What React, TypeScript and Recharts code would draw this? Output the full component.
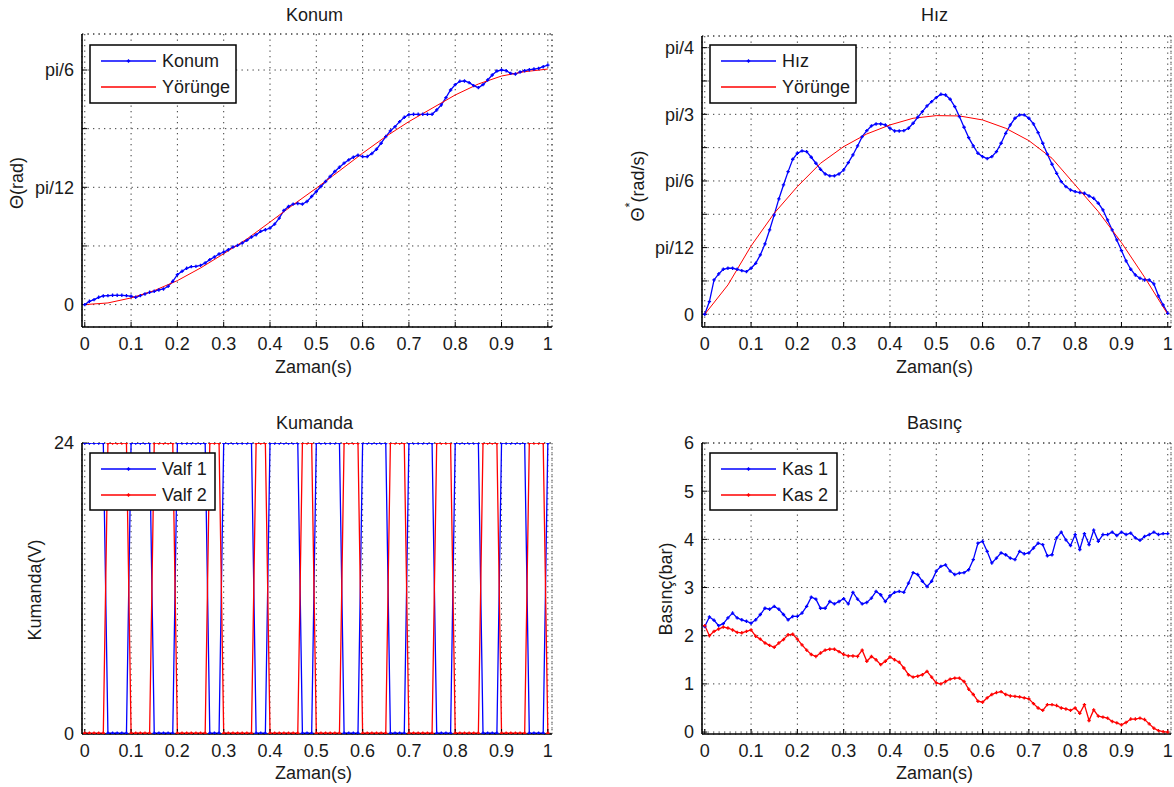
import React from 'react';
import { LineChart, Line, XAxis, YAxis, CartesianGrid, ReferenceLine } from 'recharts';

const FONT = '"Liberation Sans", Arial, Helvetica, sans-serif';
const TXT = '#1a1a1a';
const BLUE = '#0000ff';
const RED = '#ff0000';
const FS = 18;

// ---------- data ----------
const TIME = [
  0, 0.01, 0.02, 0.03, 0.04, 0.05, 0.06, 0.07, 0.08, 0.09,
  0.1, 0.11, 0.12, 0.13, 0.14, 0.15, 0.16, 0.17, 0.18, 0.19,
  0.2, 0.21, 0.22, 0.23, 0.24, 0.25, 0.26, 0.27, 0.28, 0.29,
  0.3, 0.31, 0.32, 0.33, 0.34, 0.35, 0.36, 0.37, 0.38, 0.39,
  0.4, 0.41, 0.42, 0.43, 0.44, 0.45, 0.46, 0.47, 0.48, 0.49,
  0.5, 0.51, 0.52, 0.53, 0.54, 0.55, 0.56, 0.57, 0.58, 0.59,
  0.6, 0.61, 0.62, 0.63, 0.64, 0.65, 0.66, 0.67, 0.68, 0.69,
  0.7, 0.71, 0.72, 0.73, 0.74, 0.75, 0.76, 0.77, 0.78, 0.79,
  0.8, 0.81, 0.82, 0.83, 0.84, 0.85, 0.86, 0.87, 0.88, 0.89,
  0.9, 0.91, 0.92, 0.93, 0.94, 0.95, 0.96, 0.97, 0.98, 0.99,
  1,
];
const TIME_COARSE = [0, 0.05, 0.1, 0.15, 0.2, 0.25, 0.3, 0.35, 0.4, 0.45, 0.5, 0.55, 0.6, 0.65, 0.7, 0.75, 0.8, 0.85, 0.9, 0.95, 1];

const KONUM = [
  0, 0.0074, 0.0111, 0.0163, 0.0193, 0.0201, 0.0208, 0.0208, 0.0208, 0.0201,
  0.0186, 0.0163, 0.0201, 0.0238, 0.0275, 0.0297, 0.0327, 0.0349, 0.0408, 0.052,
  0.0668, 0.0743, 0.081, 0.0847, 0.0854, 0.0876, 0.0928, 0.1003, 0.1062, 0.1129,
  0.1173, 0.1225, 0.1285, 0.1322, 0.1374, 0.1433, 0.1508, 0.156, 0.1634, 0.1671,
  0.1708, 0.1797, 0.1931, 0.2102, 0.2191, 0.2243, 0.2258, 0.2243, 0.2302, 0.2414,
  0.2525, 0.2637, 0.2748, 0.2859, 0.2971, 0.3067, 0.3157, 0.3231, 0.329, 0.3335,
  0.3305, 0.3305, 0.3372, 0.3468, 0.3602, 0.3751, 0.3877, 0.3973, 0.4085, 0.4181,
  0.4241, 0.4248, 0.4248, 0.4248, 0.4248, 0.4248, 0.4345, 0.4456, 0.462, 0.479,
  0.4909, 0.4984, 0.4991, 0.4954, 0.4887, 0.4842, 0.4909, 0.5013, 0.5125, 0.5214,
  0.5236, 0.5221, 0.5162, 0.5147, 0.5192, 0.5221, 0.5243, 0.5258, 0.5273, 0.531,
  0.5347,
];
const KONUM_YORUNGE = [0, 0.0037, 0.0149, 0.0312, 0.0535, 0.0817, 0.1136, 0.1463, 0.1842, 0.2228, 0.2599, 0.2986, 0.3379, 0.3751, 0.4085, 0.4382, 0.4679, 0.4924, 0.5102, 0.5199, 0.5258];

const HIZ = [
  0, 0.0498, 0.1349, 0.1584, 0.1768, 0.1807, 0.1807, 0.1768, 0.1715, 0.1676,
  0.1807, 0.2003, 0.2331, 0.2763, 0.3312, 0.3902, 0.453, 0.508, 0.5604, 0.6088,
  0.6324, 0.6416, 0.6389, 0.6167, 0.5931, 0.5695, 0.5512, 0.5434, 0.5434, 0.5512,
  0.5669, 0.5957, 0.6258, 0.6612, 0.6979, 0.7214, 0.7398, 0.7476, 0.7476, 0.7437,
  0.7306, 0.7201, 0.7201, 0.7214, 0.7306, 0.7502, 0.7738, 0.7961, 0.8183, 0.8353,
  0.851, 0.8641, 0.8615, 0.8445, 0.8157, 0.7764, 0.7345, 0.6939, 0.6612, 0.6324,
  0.6193, 0.6114, 0.6193, 0.6389, 0.6717, 0.7109, 0.7437, 0.7699, 0.783, 0.783,
  0.7699, 0.7476, 0.7136, 0.6717, 0.6285, 0.5892, 0.5538, 0.5211, 0.5015, 0.4884,
  0.4818, 0.4779, 0.4753, 0.4648, 0.4556, 0.436, 0.4098, 0.3705, 0.3312, 0.292,
  0.2501, 0.2095, 0.1768, 0.1545, 0.1414, 0.1349, 0.1349, 0.1191, 0.072, 0.0367,
  0.0039,
];
const HIZ_YORUNGE = [0, 0.1152, 0.2684, 0.3967, 0.5015, 0.5931, 0.6586, 0.7083, 0.7437, 0.7699, 0.7803, 0.779, 0.7633, 0.7306, 0.6821, 0.6128, 0.508, 0.4033, 0.2815, 0.1453, 0];

const VALF1 = [
  24, 24, 24, 24, 24, 0, 0, 0, 0, 0,
  24, 24, 24, 24, 24, 0, 0, 0, 0, 0,
  24, 24, 24, 24, 24, 24, 24, 0, 0, 0,
  24, 24, 24, 24, 24, 24, 24, 0, 0, 0,
  24, 24, 24, 24, 24, 24, 24, 0, 0, 0,
  24, 24, 24, 24, 24, 24, 0, 0, 0, 0,
  24, 24, 24, 24, 24, 24, 0, 0, 0, 0,
  24, 24, 24, 24, 24, 24, 0, 0, 0, 0,
  24, 24, 24, 24, 24, 24, 0, 0, 0, 0,
  24, 24, 24, 24, 24, 24, 0, 0, 0, 0,
  24,
];
const VALF2 = [
  0, 0, 0, 0, 0, 24, 24, 24, 24, 24,
  0, 0, 0, 0, 0, 24, 24, 24, 24, 24,
  0, 0, 0, 0, 0, 0, 0, 24, 24, 24,
  0, 0, 0, 0, 0, 0, 0, 24, 24, 24,
  0, 0, 0, 0, 0, 0, 0, 24, 24, 24,
  0, 0, 0, 0, 0, 0, 24, 24, 24, 24,
  0, 0, 0, 0, 0, 0, 24, 24, 24, 24,
  0, 0, 0, 0, 0, 0, 24, 24, 24, 24,
  0, 0, 0, 0, 0, 0, 24, 24, 24, 24,
  0, 0, 0, 0, 0, 0, 24, 24, 24, 24,
  0,
];

const KAS1 = [
  2.19, 2.39, 2.32, 2.21, 2.25, 2.37, 2.47, 2.37, 2.33, 2.3,
  2.26, 2.33, 2.44, 2.57, 2.55, 2.61, 2.55, 2.44, 2.33, 2.4,
  2.4, 2.47, 2.61, 2.8, 2.76, 2.57, 2.57, 2.71, 2.66, 2.71,
  2.77, 2.66, 2.9, 2.76, 2.66, 2.69, 2.78, 2.92, 2.85, 2.71,
  2.83, 2.9, 2.92, 2.9, 3.09, 3.31, 3.27, 3.13, 3.02, 3.13,
  3.34, 3.44, 3.47, 3.34, 3.27, 3.3, 3.31, 3.37, 3.58, 3.92,
  3.96, 3.75, 3.51, 3.61, 3.72, 3.68, 3.61, 3.58, 3.75, 3.7,
  3.72, 3.82, 3.92, 3.89, 3.66, 3.68, 4.03, 4.15, 3.99, 3.87,
  4.1, 3.79, 4.12, 3.89, 4.19, 3.96, 4.1, 4.1, 4.15, 4.08,
  4.15, 4.1, 4.13, 4.03, 3.98, 4.06, 4.1, 4.15, 4.1, 4.12,
  4.12,
];
const KAS2 = [
  2.21, 2.0, 2.09, 2.14, 2.18, 2.16, 2.12, 2.07, 2.06, 2.09,
  2.12, 1.99, 1.93, 1.85, 1.8, 1.76, 1.85, 1.92, 2.02, 2.03,
  1.93, 1.81, 1.7, 1.61, 1.57, 1.64, 1.7, 1.72, 1.72, 1.67,
  1.61, 1.58, 1.58, 1.57, 1.7, 1.47, 1.57, 1.5, 1.4, 1.47,
  1.56, 1.5, 1.45, 1.33, 1.19, 1.14, 1.16, 1.19, 1.26, 1.14,
  1.02, 1.0, 1.05, 1.1, 1.12, 1.12, 1.05, 0.89, 0.78, 0.64,
  0.62, 0.71, 0.78, 0.82, 0.84, 0.78, 0.75, 0.74, 0.73, 0.71,
  0.69, 0.59, 0.5, 0.45, 0.57, 0.57, 0.55, 0.5, 0.48, 0.45,
  0.5, 0.39, 0.57, 0.24, 0.46, 0.33, 0.31, 0.29, 0.22, 0.19,
  0.15, 0.2, 0.27, 0.27, 0.29, 0.26, 0.17, 0.08, 0.03, 0.01,
  0,
];

const X_TICKS = [0, 0.1, 0.2, 0.3, 0.4, 0.5, 0.6, 0.7, 0.8, 0.9, 1];
const X_TICK_LABELS = ['0', '0.1', '0.2', '0.3', '0.4', '0.5', '0.6', '0.7', '0.8', '0.9', '1'];
const PI = Math.PI;
const KONUM_Y_TICKS = [0, PI / 24, PI / 12, PI / 8, PI / 6];
const KONUM_Y_LABELS = ['0', '', 'pi/12', '', 'pi/6'];
const HIZ_Y_TICKS = [0, PI / 24, PI / 12, PI / 8, PI / 6, (5 * PI) / 24, PI / 4, (7 * PI) / 24, PI / 3];
const HIZ_Y_LABELS = ['0', '', 'pi/12', '', 'pi/6', '', 'pi/3', '', 'pi/4'];
const KUMANDA_Y_TICKS = [0, 24];
const KUMANDA_Y_LABELS = ['0', '24'];
const BASINC_Y_TICKS = [0, 1, 2, 3, 4, 5, 6];
const BASINC_Y_LABELS = ['0', '1', '2', '3', '4', '5', '6'];

const rows = (t: number[], v: number[]) => t.map((x, i) => ({ t: x, v: v[i] }));

// ---------- components ----------
type Series = { data: { t: number; v: number }[]; color: string; marker: boolean; width: number; name: string };
type Box = { l: number; t: number; r: number; b: number };

const plusDot = (color: string) => (p: any) => {
  const { cx, cy, index } = p;
  if (cx == null || cy == null) return <g key={`n${index}`} />;
  const a = 1.7;
  return (
    <path
      key={`d${index}`}
      d={`M${cx - a},${cy}H${cx + a}M${cx},${cy - a}V${cy + a}`}
      stroke={color}
      strokeWidth={1.3}
      fill="none"
    />
  );
};

function Panel({ box, xDomain, yDomain, yTicks, yLabels, series }: {
  box: Box; xDomain: [number, number]; yDomain: [number, number]; yTicks: number[]; yLabels: string[]; series: Series[];
}) {
  const ML = 80, MT = 10, MR = 10, MB = 50, YW = 60, XH = 30;
  const width = box.r - box.l + ML + MR;
  const height = box.b - box.t + MT + MB;
  const tickStyle = { fontSize: FS, fill: TXT, fontFamily: FONT };
  const yFmt = (v: number) => {
    const i = yTicks.findIndex((q) => Math.abs(q - v) < 1e-9);
    return i >= 0 ? yLabels[i] : '';
  };
  const xFmt = (v: number) => {
    const i = X_TICKS.findIndex((q) => Math.abs(q - v) < 1e-9);
    return i >= 0 ? X_TICK_LABELS[i] : '';
  };
  return (
    <div style={{ position: 'absolute', left: box.l - ML, top: box.t - MT, width, height }}>
      <LineChart width={width} height={height} margin={{ top: MT, right: MR, left: ML - YW, bottom: MB - XH }}>
        <CartesianGrid stroke="#3a3a3a" strokeDasharray="1.3 4.2" strokeWidth={1} />
        <XAxis
          type="number"
          dataKey="t"
          domain={xDomain}
          allowDataOverflow
          ticks={X_TICKS}
          interval={0}
          height={XH}
          tickFormatter={xFmt}
          tick={tickStyle}
          tickSize={-5}
          tickMargin={15}
          tickLine={{ stroke: '#000', strokeWidth: 1 }}
          axisLine={{ stroke: '#000', strokeWidth: 1.6 }}
        />
        <YAxis
          type="number"
          dataKey="v"
          domain={yDomain}
          allowDataOverflow
          ticks={yTicks}
          interval={0}
          width={YW}
          tickFormatter={yFmt}
          tick={tickStyle}
          tickSize={-5}
          tickMargin={13}
          tickLine={{ stroke: '#000', strokeWidth: 1 }}
          axisLine={{ stroke: '#000', strokeWidth: 1.6 }}
        />
        <ReferenceLine y={yDomain[1]} stroke="#3a3a3a" strokeDasharray="1.3 4.2" />
        <ReferenceLine x={xDomain[1]} stroke="#3a3a3a" strokeDasharray="1.3 4.2" />
        {series.map((s) => (
          <Line
            key={s.name}
            data={s.data}
            dataKey="v"
            name={s.name}
            type="linear"
            stroke={s.color}
            strokeWidth={s.width}
            dot={s.marker ? plusDot(s.color) : false}
            activeDot={false}
            isAnimationActive={false}
          />
        ))}
      </LineChart>
    </div>
  );
}

function LegendBox({ x, y, w, h, items }: { x: number; y: number; w: number; h: number; items: { label: string; color: string; marker: boolean }[] }) {
  const rowsY = [y + 16, y + 42];
  return (
    <g>
      <rect x={x} y={y} width={w} height={h} fill="#fff" stroke="#000" strokeWidth={1.5} />
      {items.map((it, i) => {
        const cy = rowsY[i];
        const x1 = x + 11, x2 = x + 66, mx = (x1 + x2) / 2;
        return (
          <g key={it.label}>
            <line x1={x1} y1={cy} x2={x2} y2={cy} stroke={it.color} strokeWidth={1.3} />
            {it.marker && <path d={`M${mx - 1.7},${cy}H${mx + 1.7}M${mx},${cy - 1.7}V${cy + 1.7}`} stroke={it.color} strokeWidth={1.3} />}
            <text x={x + 72} y={cy} dominantBaseline="central" fontSize={FS} fontFamily={FONT} fill={TXT}>{it.label}</text>
          </g>
        );
      })}
    </g>
  );
}

const TL: Box = { l: 82, t: 34, r: 552, b: 327 };
const TR: Box = { l: 702, t: 36, r: 1171, b: 327 };
const BL: Box = { l: 82, t: 443, r: 552, b: 734 };
const BR: Box = { l: 702, t: 443, r: 1171, b: 734 };

export default function App() {
  const textProps = { fontSize: FS, fontFamily: FONT, fill: TXT, textAnchor: 'middle' as const, dominantBaseline: 'central' as const };
  return (
    <div style={{ position: 'absolute', left: 0, top: 0, width: 1174, height: 787, overflow: 'hidden', background: '#fff' }}>
      <Panel
        box={TL}
        xDomain={[-0.006, 1.009]}
        yDomain={[-0.05, 0.604]}
        yTicks={KONUM_Y_TICKS}
        yLabels={KONUM_Y_LABELS}
        series={[
          { name: 'Konum', data: rows(TIME, KONUM), color: BLUE, marker: true, width: 1.3 },
          { name: 'Yörünge', data: rows(TIME_COARSE, KONUM_YORUNGE), color: RED, marker: false, width: 1 },
        ]}
      />
      <Panel
        box={TR}
        xDomain={[-0.006, 1.007]}
        yDomain={[-0.05, 1.093]}
        yTicks={HIZ_Y_TICKS}
        yLabels={HIZ_Y_LABELS}
        series={[
          { name: 'Hız', data: rows(TIME, HIZ), color: BLUE, marker: true, width: 1.3 },
          { name: 'Yörünge', data: rows(TIME_COARSE, HIZ_YORUNGE), color: RED, marker: false, width: 1 },
        ]}
      />
      <Panel
        box={BL}
        xDomain={[-0.006, 1.009]}
        yDomain={[-0.06, 24]}
        yTicks={KUMANDA_Y_TICKS}
        yLabels={KUMANDA_Y_LABELS}
        series={[
          { name: 'Valf 1', data: rows(TIME, VALF1), color: BLUE, marker: true, width: 1.3 },
          { name: 'Valf 2', data: rows(TIME, VALF2), color: RED, marker: true, width: 1.3 },
        ]}
      />
      <Panel
        box={BR}
        xDomain={[-0.006, 1.007]}
        yDomain={[-0.04, 6]}
        yTicks={BASINC_Y_TICKS}
        yLabels={BASINC_Y_LABELS}
        series={[
          { name: 'Kas 1', data: rows(TIME, KAS1), color: BLUE, marker: true, width: 1.3 },
          { name: 'Kas 2', data: rows(TIME, KAS2), color: RED, marker: true, width: 1.3 },
        ]}
      />
      <svg width={1174} height={787} style={{ position: 'absolute', left: 0, top: 0, pointerEvents: 'none' }}>
        <text x={314.5} y={15} {...textProps}>Konum</text>
        <text x={934.5} y={15} {...textProps}>Hız</text>
        <text x={314.5} y={423} {...textProps}>Kumanda</text>
        <text x={934.5} y={423} {...textProps}>Basınç</text>

        <text x={313.5} y={367} {...textProps}>Zaman(s)</text>
        <text x={934.5} y={367} {...textProps}>Zaman(s)</text>
        <text x={313.5} y={773} {...textProps}>Zaman(s)</text>
        <text x={934.5} y={773} {...textProps}>Zaman(s)</text>

        <text x={17} y={183} transform="rotate(-90 17 183)" {...textProps}>Θ(rad)</text>
        <text x={638} y={186} transform="rotate(-90 638 186)" {...textProps}>
          Θ<tspan dy={-9} fontSize={13}>*</tspan><tspan dy={9}>(rad/s)</tspan>
        </text>
        <text x={35} y={590} transform="rotate(-90 35 590)" {...textProps}>Kumanda(V)</text>
        <text x={666} y={589} transform="rotate(-90 666 589)" {...textProps}>Basınç(bar)</text>

        <LegendBox x={90} y={45} w={146} h={58} items={[{ label: 'Konum', color: BLUE, marker: true }, { label: 'Yörünge', color: RED, marker: false }]} />
        <LegendBox x={710} y={45} w={146} h={58} items={[{ label: 'Hız', color: BLUE, marker: true }, { label: 'Yörünge', color: RED, marker: false }]} />
        <LegendBox x={90} y={453} w={125} h={57} items={[{ label: 'Valf 1', color: BLUE, marker: true }, { label: 'Valf 2', color: RED, marker: true }]} />
        <LegendBox x={710} y={453} w={127} h={57} items={[{ label: 'Kas 1', color: BLUE, marker: true }, { label: 'Kas 2', color: RED, marker: true }]} />
      </svg>
    </div>
  );
}
